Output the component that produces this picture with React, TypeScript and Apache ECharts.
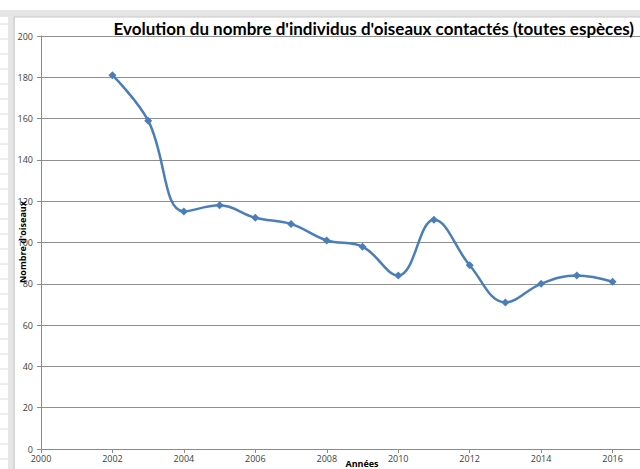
import React, { useEffect, useRef } from "react";
import * as echarts from "echarts";

const years = [2002, 2003, 2004, 2005, 2006, 2007, 2008, 2009, 2010, 2011, 2012, 2013, 2014, 2015, 2016];
const birds = [181, 159, 115, 118, 112, 109, 101, 98, 84, 111, 89, 71, 80, 84, 81];
const titleText = "Evolution du nombre d'individus d'oiseaux contactés (toutes espèces)";
const yName = "Nombre d'oiseaux";
const xName = "Années";

export default function App() {
  const ref = useRef<HTMLDivElement>(null);
  useEffect(() => {
    if (!ref.current) return;
    const chart = echarts.init(ref.current, null, { renderer: "svg" });
    const rows: any[] = [];
    for (let i = 0; i < 30; i++) {
      rows.push({ type: "line", shape: { x1: 0, y1: 24 + i * 15, x2: 8, y2: 24 + i * 15 }, style: { stroke: "#dcdcdc", lineWidth: 1 } });
    }
    chart.setOption({
      animation: false,
      backgroundColor: "#ffffff",
      title: {
        text: titleText,
        right: 1,
        top: 15,
        textStyle: { fontFamily: "Lato", fontWeight: "bold", fontSize: 17, color: "#000" },
      },
      graphic: [
        { type: "rect", shape: { x: 0, y: 10, width: 640, height: 7 }, style: { fill: "#e6e6e6" } },
        { type: "rect", shape: { x: 8, y: 10, width: 7, height: 459 }, style: { fill: "#e6e6e6" } },
        { type: "line", shape: { x1: 14, y1: 17, x2: 640, y2: 17 }, style: { stroke: "#c8c8c8", lineWidth: 1 } },
        { type: "line", shape: { x1: 14, y1: 17, x2: 14, y2: 469 }, style: { stroke: "#c8c8c8", lineWidth: 1 } },
        ...rows,
        {
          type: "text",
          x: 22,
          y: 242,
          rotation: Math.PI / 2,
          z: 10,
          style: {
            text: yName,
            fontFamily: "Open Sans",
            fontWeight: "bold",
            fontSize: 9,
            fill: "#000",
            align: "center",
            verticalAlign: "middle",
          },
        },
        {
          type: "text",
          x: 362,
          y: 463,
          z: 10,
          style: {
            text: xName,
            fontFamily: "Open Sans",
            fontWeight: "bold",
            fontSize: 9,
            fill: "#000",
            align: "center",
            verticalAlign: "middle",
          },
        },
      ],
      grid: { left: 41, top: 36, width: 643, height: 413, containLabel: false, outerBoundsMode: "none" },
      xAxis: {
        type: "value",
        min: 2000,
        max: 2018,
        interval: 2,
        axisLine: { show: true, lineStyle: { color: "#8a8a8a", width: 1 } },
        axisTick: { show: true, length: 4, lineStyle: { color: "#8a8a8a" } },
        axisLabel: {
          fontFamily: "Open Sans",
          fontSize: 9,
          color: "#404040",
          margin: 5,
          formatter: (v: number) => (v > 2016 ? "" : String(v)),
        },
        splitLine: { show: false },
      },
      yAxis: {
        type: "value",
        min: 0,
        max: 200,
        interval: 20,
        axisLine: { show: true, lineStyle: { color: "#8a8a8a", width: 1 } },
        axisTick: { show: true, length: 4, lineStyle: { color: "#8a8a8a" } },
        axisLabel: { fontFamily: "Open Sans", fontSize: 9, color: "#404040", margin: 8 },
        splitLine: { show: true, lineStyle: { color: "#8f8f8f", width: 1 } },
      },
      series: [
        {
          type: "line",
          data: years.map((y, i) => [y, birds[i]]),
          smooth: 0.4,
          symbol: "diamond",
          symbolSize: 8,
          lineStyle: { color: "#4a7ebb", width: 2.5 },
          itemStyle: { color: "#4a7ebb" },
        },
      ],
    });
    return () => chart.dispose();
  }, []);
  return <div ref={ref} style={{ position: "fixed", left: 0, top: 0, width: 640, height: 469 }} />;
}
